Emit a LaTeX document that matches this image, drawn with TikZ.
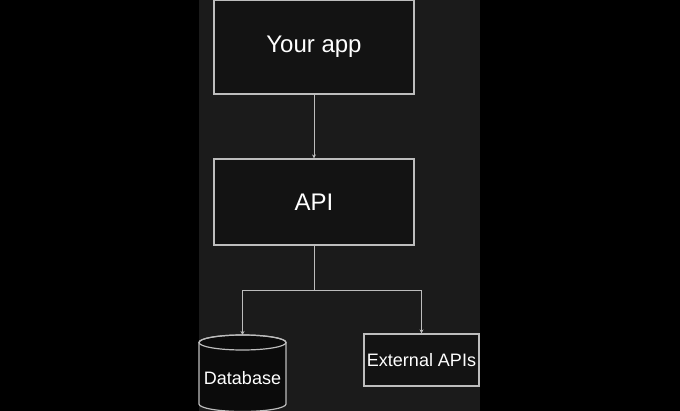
\documentclass[tikz,border=0pt]{standalone}
\usepackage{fontspec}
\setmainfont{Liberation Sans}
\usetikzlibrary{positioning}
\usetikzlibrary{arrows.meta}
\definecolor{panelgray}{HTML}{1B1B1B}
\definecolor{boxgray}{HTML}{131313}
\definecolor{dbfill}{HTML}{0B0B0B}
\definecolor{linegray}{HTML}{BDBDBD}
\tikzset{
  block/.style={rectangle,draw=linegray,fill=boxgray,line width=1.2pt,text=white,inner sep=0pt},
  link/.style={draw=linegray,line width=0.9pt},
  linkarrow/.style={link,-{Stealth[length=4pt,width=4pt]}}
}

\begin{document}
\begin{tikzpicture}[x=1pt,y=-1pt]
\useasboundingbox (0,0) rectangle (680,411);
\fill[black] (0,0) rectangle (680,411);
\fill[panelgray] (199,0) rectangle (480,411);
\node[block,minimum width=200pt,minimum height=94pt,font=\fontsize{24}{28}\selectfont] (app) at (314,47) {Your app};
\node[block,minimum width=200pt,minimum height=86pt,font=\fontsize{24}{28}\selectfont] (api) at (314,202) {API};
\node[block,minimum width=115pt,minimum height=52pt,font=\fontsize{18}{21}\selectfont] (ext) at (421.5,360) {External APIs};
% database drum
\draw[draw=linegray,fill=dbfill,line width=1.2pt] (199,342.5) -- (199,404)
  arc[start angle=180,end angle=360,x radius=43.5pt,y radius=7.5pt] -- (286,342.5)
  arc[start angle=0,end angle=180,x radius=43.5pt,y radius=7.5pt] -- cycle;
\draw[draw=linegray,line width=1.2pt] (242.5,342.5) ellipse [x radius=43.5pt,y radius=7.5pt];
\coordinate (dbtop) at (242.5,335);
\node[text=white,font=\fontsize{18}{21}\selectfont] (db) at (242.5,378) {Database};
\coordinate (split) at (314,290);
\draw[linkarrow] (app) -- (api);
\draw[link] (api) -- (split);
\draw[linkarrow] (split) -| (dbtop);
\draw[linkarrow] (split) -| (ext);
\end{tikzpicture}
\end{document}
